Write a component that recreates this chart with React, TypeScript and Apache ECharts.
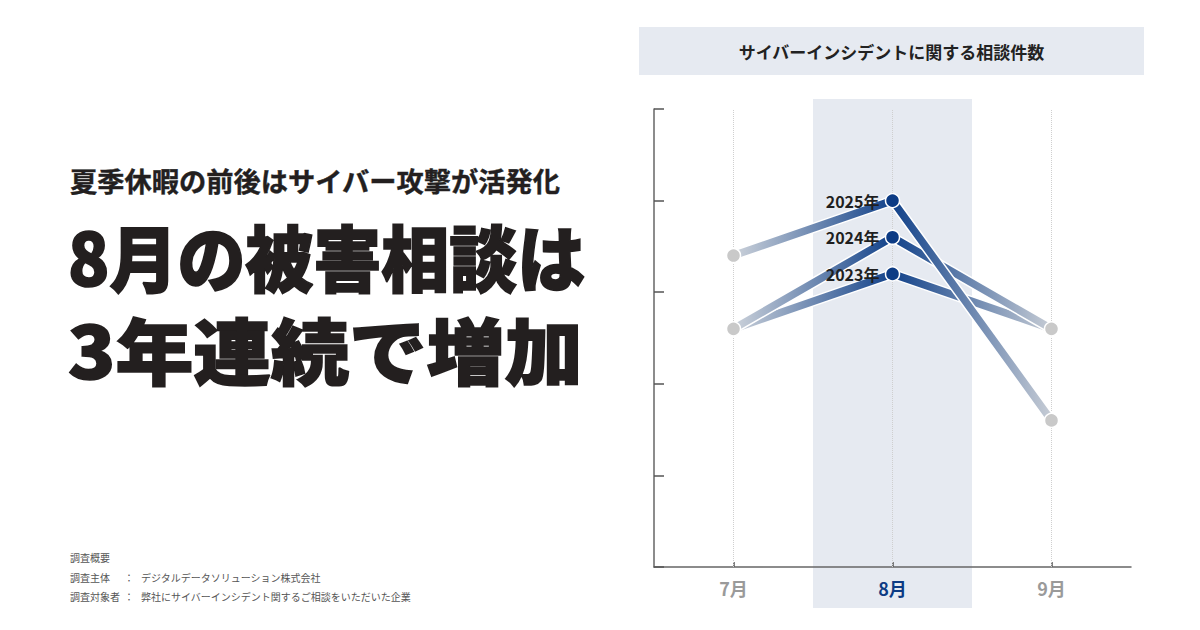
import React, { useEffect, useRef } from "react";
import * as echarts from "echarts";

const categories = ["7月", "8月", "9月"];
const yearNames = ["2023年", "2024年", "2025年"];
const values2023 = [2.6, 3.2, 2.6];
const values2024 = [2.6, 3.6, 2.6];
const values2025 = [3.4, 4.0, 1.6];
const seriesValues = [values2023, values2024, values2025];
const highlightCategory = "8月";
const yMin = 0;
const yMax = 5;
const yInterval = 1;

const chartTitle = "サイバーインシデントに関する相談件数";
const kicker = "夏季休暇の前後はサイバー攻撃が活発化";
const headline1 = "8月の被害相談は";
const headline2 = "3年連続で増加";
const noteHeader = "調査概要";
const noteRows = [
  ["調査主体", "：", "デジタルデータソリューション株式会社"],
  ["調査対象者", "：", "弊社にサイバーインシデント関するご相談をいただいた企業"],
];

const FONT = '"Noto Sans CJK JP", "Noto Sans", sans-serif';
const BAND = "#e6eaf1";
const DARK_BLUE = "#0c3b84";
const INK = "#231f1f";

export default function App() {
  const ref = useRef<HTMLDivElement>(null);

  useEffect(() => {
    if (!ref.current) return;
    const chart = echarts.init(ref.current, null, { renderer: "svg" });
    const hi = categories.indexOf(highlightCategory);

    const series: any[] = [
      {
        type: "line",
        name: "grid",
        data: [],
        z: 1,
        silent: true,
        markLine: {
          z: 1,
          silent: true,
          symbol: "none",
          label: { show: false },
          lineStyle: { color: "#cfcfcf", type: "dotted", width: 1 },
          data: categories.map((c) => ({ xAxis: c })),
        },
      },
    ];

    yearNames.forEach((name, k) => {
      const vals = seriesValues[k];
      series.push({
        type: "line",
        name: name + " halo",
        data: vals,
        z: 3 + 2 * k,
        symbol: "none",
        silent: true,
        lineStyle: { color: "#ffffff", width: 10.5 },
      });
      series.push({
        type: "line",
        name,
        z: 4 + 2 * k,
        symbol: "circle",
        symbolSize: 14,
        silent: true,
        lineStyle: {
          width: 7.5,
          color: new echarts.graphic.LinearGradient(0, 0, 1, 0, [
            { offset: 0, color: "#ccd2da" },
            { offset: 0.5, color: "#12428a" },
            { offset: 1, color: "#c6ccd5" },
          ]),
        },
        itemStyle: { borderColor: "#ffffff", borderWidth: 1.5 },
        data: vals.map((v, i) => ({
          value: v,
          itemStyle: { color: i === hi ? DARK_BLUE : "#c9c9c9" },
        })),
      });
    });

    yearNames.forEach((name, k) => {
      series.push({
        type: "scatter",
        name: name + " label",
        z: 20,
        silent: true,
        symbolSize: 14,
        itemStyle: { color: "rgba(0,0,0,0)", opacity: 1 },
        data: [[highlightCategory, seriesValues[k][hi]]],
        label: {
          show: true,
          position: "left",
          distance: 6,
          formatter: name,
          fontFamily: FONT,
          fontWeight: "bold",
          fontSize: 16,
          color: "#1f1f1f",
          opacity: 1,
        },
      });
    });

    const option: any = {
      animation: false,
      textStyle: { fontFamily: FONT },
      grid: { left: 654, right: 69, top: 109, bottom: 63, containLabel: false },
      xAxis: {
        type: "category",
        data: categories,
        boundaryGap: true,
        axisLine: { lineStyle: { color: "#666666", width: 1.5 } },
        axisTick: {
          show: true,
          alignWithLabel: true,
          inside: true,
          length: 5,
          lineStyle: { color: "#555555", width: 1.5 },
        },
        splitLine: { show: false },
        axisLabel: {
          margin: 12,
          formatter: (v: string) => (v === highlightCategory ? `{hl|${v}}` : `{n|${v}}`),
          rich: {
            n: { fontFamily: FONT, fontWeight: "bold", fontSize: 18, color: "#9a9a9a" },
            hl: { fontFamily: FONT, fontWeight: "bold", fontSize: 18, color: DARK_BLUE },
          },
        },
      },
      yAxis: {
        type: "value",
        min: yMin,
        max: yMax,
        interval: yInterval,
        axisLine: { show: true, lineStyle: { color: "#666666", width: 1.5 } },
        axisTick: {
          show: true,
          inside: true,
          length: 10,
          lineStyle: { color: "#555555", width: 1.5 },
        },
        axisLabel: { show: false },
        splitLine: { show: false },
      },
      series,
    };
    chart.setOption(option);

    const x8 = chart.convertToPixel({ xAxisIndex: 0 }, highlightCategory) as number;
    const x9 = chart.convertToPixel({ xAxisIndex: 0 }, categories[hi + 1]) as number;
    const bandW = x9 - x8;
    const yTop = chart.convertToPixel({ yAxisIndex: 0 }, yMax) as number;
    const yBot = chart.convertToPixel({ yAxisIndex: 0 }, yMin) as number;

    const graphics: any[] = [
      {
        type: "rect",
        z: -10,
        silent: true,
        shape: { x: x8 - bandW / 2, y: yTop - 10, width: bandW, height: yBot - yTop + 51 },
        style: { fill: BAND },
      },
      {
        type: "rect",
        z: -10,
        silent: true,
        shape: { x: 639, y: 27, width: 505, height: 48 },
        style: { fill: BAND },
      },
      {
        type: "text",
        x: 891.5,
        y: 51,
        style: {
          text: chartTitle,
          fontFamily: FONT,
          fontWeight: "bold",
          fontSize: 17,
          fill: "#222222",
          align: "center",
          verticalAlign: "middle",
        },
      },
      {
        type: "text",
        x: 70,
        y: 181,
        scaleX: 1.01,
        style: {
          text: kicker,
          fontFamily: FONT,
          fontWeight: "bold",
          fontSize: 27,
          fill: INK,
          stroke: INK,
          lineWidth: 0.4,
          align: "left",
          verticalAlign: "middle",
        },
      },
      {
        type: "text",
        x: 68,
        y: 255,
        scaleY: 1.06,
        style: {
          text: headline1,
          fontFamily: FONT,
          fontWeight: 900,
          fontSize: 68,
          fill: INK,
          stroke: INK,
          lineWidth: 1.6,
          align: "left",
          verticalAlign: "middle",
        },
      },
      {
        type: "text",
        x: 68,
        y: 348,
        scaleX: 1.145,
        scaleY: 1.06,
        style: {
          text: headline2,
          fontFamily: FONT,
          fontWeight: 900,
          fontSize: 68,
          fill: INK,
          stroke: INK,
          lineWidth: 1.6,
          align: "left",
          verticalAlign: "middle",
        },
      },
      {
        type: "text",
        x: 70,
        y: 557,
        style: {
          text: noteHeader,
          fontFamily: FONT,
          fontSize: 10,
          fill: "#555555",
          verticalAlign: "middle",
        },
      },
    ];
    noteRows.forEach((row, i) => {
      const y = 577 + i * 19;
      graphics.push(
        {
          type: "text",
          x: 70,
          y,
          style: { text: row[0], fontFamily: FONT, fontSize: 10, fill: "#555555", verticalAlign: "middle" },
        },
        {
          type: "text",
          x: 124,
          y,
          style: { text: row[1], fontFamily: FONT, fontSize: 10, fill: "#555555", verticalAlign: "middle" },
        },
        {
          type: "text",
          x: 141,
          y,
          style: { text: row[2], fontFamily: FONT, fontSize: 10, fill: "#555555", verticalAlign: "middle" },
        }
      );
    });

    chart.setOption({ graphic: graphics });

    return () => chart.dispose();
  }, []);

  return (
    <div
      ref={ref}
      style={{ position: "fixed", left: 0, top: 0, width: 1200, height: 630, background: "#ffffff" }}
    />
  );
}
